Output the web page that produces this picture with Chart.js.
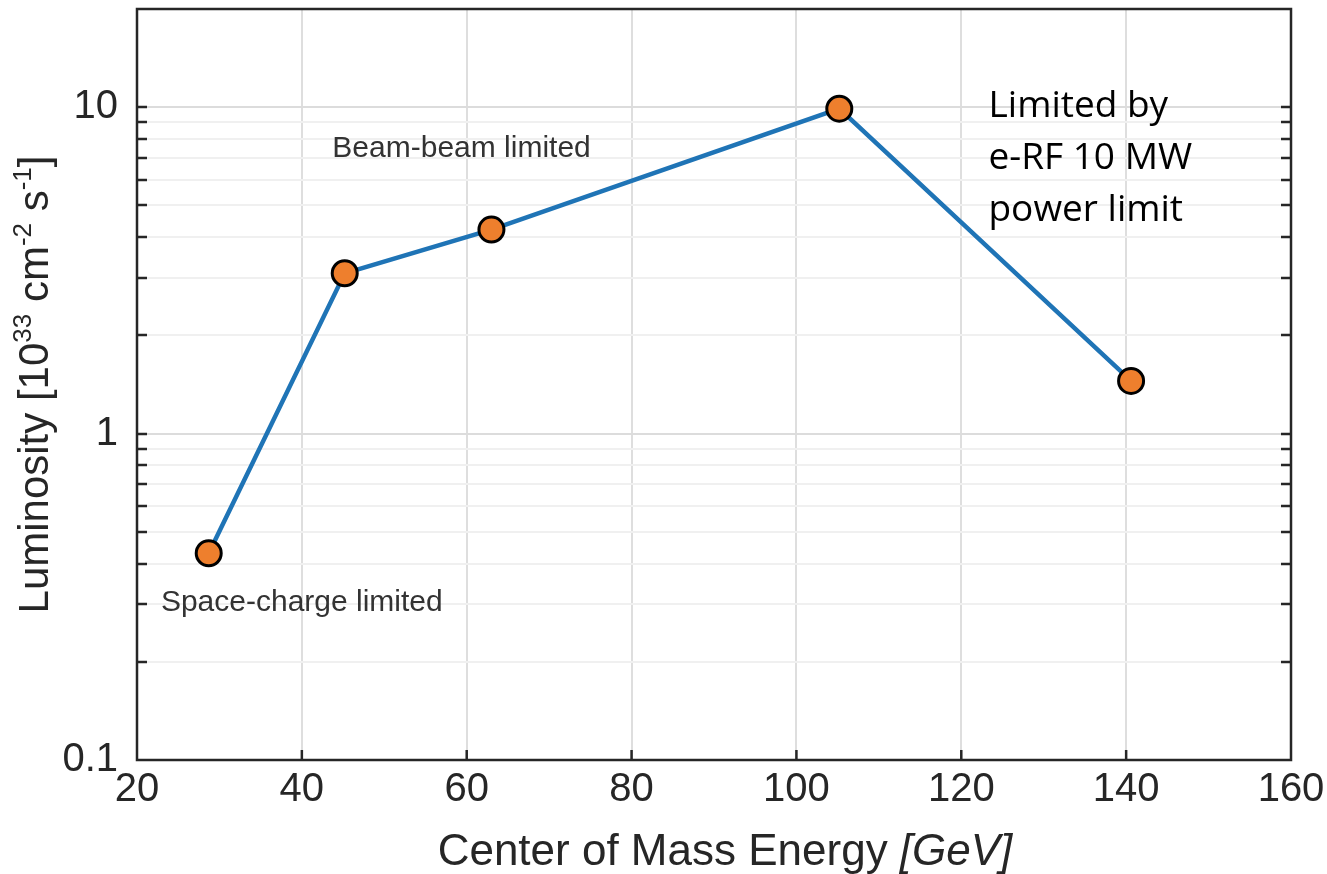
<!DOCTYPE html>
<html><head><meta charset="utf-8">
<script src="https://cdn.jsdelivr.net/npm/chart.js@4.4.1/dist/chart.umd.min.js"></script>
<style>html,body{margin:0;padding:0;background:#fff}#wrap{width:1327px;height:874px;position:relative}</style>
</head><body><div id="wrap"><canvas id="c"></canvas></div>
<script>
// ---- data ----
const energies = [28.7, 45.2, 63.0, 105.2, 140.6];
const luminosity = [0.43, 3.1, 4.22, 9.9, 1.45];
const xTicks = [20, 40, 60, 80, 100, 120, 140, 160];
const yMajorTicks = [0.1, 1, 10];
const yMinorTicks = [0.2, 0.3, 0.4, 0.5, 0.6, 0.7, 0.8, 0.9, 2, 3, 4, 5, 6, 7, 8, 9];
const xTitleMain = 'Center of Mass Energy ';
const xTitleUnit = '[GeV]';
const yTitleParts = [['Luminosity [10', false], ['33', true], [' cm', false], ['-2', true], [' s', false], ['-1', true], [']', false]];
const noteBeam = {text: 'Beam-beam limited', x: 43.7, y: 7.06};
const noteSpace = {text: 'Space-charge limited', x: 22.9, y: 0.286};
const noteRF = {lines: ['Limited by', 'e-RF 10 MW', 'power limit'], x: 123.3, y: 9.36};

const FONT = "'Liberation Sans', Arial, Helvetica, sans-serif";
const TXT = '#262626';

const deco = {
  id: 'deco',
  beforeDatasetsDraw(chart) {
    const {ctx, chartArea: a, scales: {x, y}} = chart;
    ctx.save();
    ctx.strokeStyle = TXT;
    const yt = yMajorTicks.concat(yMinorTicks);
    ctx.beginPath();
    yt.forEach(v => {
      const py = Math.round(y.getPixelForValue(v));
      if (py < a.top + 1 || py > a.bottom - 1) return;
      ctx.moveTo(a.left, py); ctx.lineTo(a.left + 10, py);
      ctx.moveTo(a.right, py); ctx.lineTo(a.right - 10, py);
    });
    xTicks.forEach(v => {
      const px = x.getPixelForValue(v);
      if (px < a.left + 1 || px > a.right - 1) return;
      ctx.moveTo(px, a.bottom); ctx.lineTo(px, a.bottom - 10);
    });
    ctx.lineWidth = 2.5;
    ctx.stroke();
    ctx.strokeRect(a.left, a.top, a.right - a.left, a.bottom - a.top);
    ctx.restore();
  },
  afterDraw(chart) {
    const {ctx, chartArea: a, scales: {x, y}} = chart;
    ctx.save();
    ctx.fillStyle = TXT;
    ctx.textBaseline = 'alphabetic';
    ctx.textAlign = 'left';
    // x title
    ctx.font = '44px ' + FONT;
    const w1 = ctx.measureText(xTitleMain).width;
    ctx.font = 'italic 44px ' + FONT;
    const w2 = ctx.measureText(xTitleUnit).width;
    const sx = (a.left + a.right) / 2 + 11 - (w1 + w2) / 2;
    ctx.font = '44px ' + FONT;
    ctx.fillText(xTitleMain, sx, 865);
    ctx.font = 'italic 44px ' + FONT;
    ctx.fillText(xTitleUnit, sx + w1, 865);
    // y title (rotated with superscripts)
    const big = '42px ' + FONT, small = '26px ' + FONT;
    let total = 0;
    yTitleParts.forEach(([t, s]) => { ctx.font = s ? small : big; total += ctx.measureText(t).width; });
    ctx.translate(48, (a.top + a.bottom) / 2);
    ctx.rotate(-Math.PI / 2);
    let cx = -total / 2;
    yTitleParts.forEach(([t, s]) => {
      ctx.font = s ? small : big;
      ctx.fillText(t, cx, s ? -17 : 0);
      cx += ctx.measureText(t).width;
    });
    ctx.setTransform(1, 0, 0, 1, 0, 0);
    // annotations
    ctx.fillStyle = '#333';
    ctx.font = '30px ' + FONT;
    ctx.fillText(noteBeam.text, x.getPixelForValue(noteBeam.x), y.getPixelForValue(noteBeam.y));
    ctx.fillText(noteSpace.text, x.getPixelForValue(noteSpace.x), y.getPixelForValue(noteSpace.y));
    ctx.fillStyle = '#000';
    ctx.font = "37px 'Open Sans', 'Liberation Sans', sans-serif";
    const bx = x.getPixelForValue(noteRF.x), by = y.getPixelForValue(noteRF.y);
    noteRF.lines.forEach((l, i) => ctx.fillText(l, bx, by + i * 52));
    ctx.restore();
  }
};

new Chart(document.getElementById('c'), {
  type: 'line',
  data: {
    datasets: [{
      data: energies.map((e, i) => ({x: e, y: luminosity[i]})),
      borderColor: '#1f74b6',
      borderWidth: 4.5,
      pointRadius: 12.5,
      pointBorderWidth: 3,
      pointBackgroundColor: '#ee7f2d',
      pointBorderColor: '#000',
      tension: 0,
      fill: false
    }]
  },
  options: {
    responsive: true,
    maintainAspectRatio: false,
    animation: false,
    layout: {autoPadding: false, padding: {left: 0, right: 36, top: 9, bottom: 0}},
    plugins: {legend: {display: false}, tooltip: {enabled: false}},
    scales: {
      x: {
        type: 'linear', min: 20, max: 160,
        afterBuildTicks: s => { s.ticks = xTicks.map(v => ({value: v})); },
        afterFit: s => { s.height = 874 - 760; s.paddingLeft = 0; s.paddingRight = 0; },
        ticks: {font: {size: 40, family: FONT}, color: TXT, padding: 6, maxRotation: 0},
        grid: {color: '#dedede', lineWidth: 2, drawTicks: false},
        border: {display: false}
      },
      y: {
        type: 'logarithmic', min: 0.1, max: 20,
        afterBuildTicks: s => { s.ticks = yMajorTicks.concat(yMinorTicks).sort((p, q) => p - q).map(v => ({value: v})); },
        afterFit: s => { s.width = 137; s.paddingTop = 0; s.paddingBottom = 0; },
        ticks: {
          font: {size: 40, family: FONT}, color: TXT, padding: 19, autoSkip: false,
          callback: v => yMajorTicks.includes(v) ? String(v) : ''
        },
        grid: {
          color: c => (c.tick && yMajorTicks.includes(c.tick.value)) ? '#dcdcdc' : '#f0f0f0',
          lineWidth: 2, drawTicks: false
        },
        border: {display: false}
      }
    }
  },
  plugins: [deco]
});
</script>
</body></html>
